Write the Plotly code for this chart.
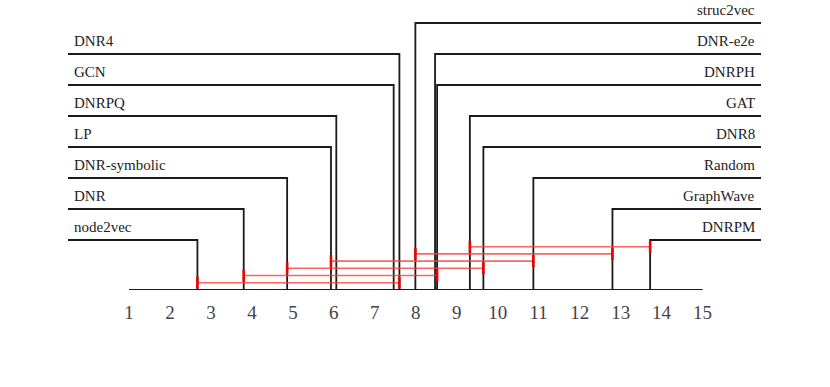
import plotly.graph_objects as go

# average ranks
methods = ["node2vec", "DNR", "DNR-symbolic", "LP", "DNRPQ", "GCN", "DNR4",
           "struc2vec", "DNR-e2e", "DNRPH", "GAT", "DNR8", "Random", "GraphWave", "DNRPM"]
avg_ranks = [2.67, 3.80, 4.86, 5.93, 6.06, 7.46, 7.60,
             7.99, 8.47, 8.52, 9.32, 9.65, 10.87, 12.80, 13.72]

# groups with no significant difference (first, last member)
cliques = [("node2vec", "DNR4"), ("DNR", "DNRPH"), ("DNR-symbolic", "DNR8"),
           ("LP", "Random"), ("struc2vec", "GraphWave"), ("GAT", "DNRPM")]

tick_vals = list(range(1, 16))

W, H = 830, 387
# x axis in rank units: rank 1 at px 129, 40.97 px per rank
PX_PER = 40.97
XMIN = 1 - 129 / PX_PER
XMAX = XMIN + W / PX_PER


def px(p):
    return XMIN + p / PX_PER


AXIS_Y = 290
ROW0 = 240
ROW_STEP = 31
LINE_COL = "#1a1a1a"
FONT = "Liberation Serif"

rank_of = dict(zip(methods, avg_ranks))
order = sorted(methods, key=lambda m: rank_of[m])
n_left = len(order) // 2
left = order[:n_left]
right = order[n_left:][::-1]

fig = go.Figure()
annotations = []

# left side elbows
for k, m in enumerate(left):
    r = rank_of[m]
    y = ROW0 - ROW_STEP * k
    fig.add_trace(go.Scatter(x=[r, r, px(68)], y=[AXIS_Y, y, y], mode="lines",
                             line=dict(color=LINE_COL, width=1.8), hoverinfo="skip"))
    annotations.append(dict(x=px(72), y=y, text=m, xanchor="left", yanchor="bottom",
                            showarrow=False, yshift=3, font=dict(family=FONT, size=15, color="#222")))

# right side elbows
for k, m in enumerate(right):
    r = rank_of[m]
    y = ROW0 - ROW_STEP * k
    fig.add_trace(go.Scatter(x=[r, r, px(761)], y=[AXIS_Y, y, y], mode="lines",
                             line=dict(color=LINE_COL, width=1.8), hoverinfo="skip"))
    annotations.append(dict(x=px(757), y=y, text=m, xanchor="right", yanchor="bottom",
                            showarrow=False, yshift=3, font=dict(family=FONT, size=15, color="#222")))

# axis line
fig.add_trace(go.Scatter(x=[tick_vals[0], tick_vals[-1]], y=[AXIS_Y, AXIS_Y], mode="lines",
                         line=dict(color=LINE_COL, width=1.8), hoverinfo="skip"))

# cliques
for j, (a, b) in enumerate(cliques):
    y = 282.7 - 7.2 * j
    ra, rb = rank_of[a], rank_of[b]
    fig.add_trace(go.Scatter(x=[ra, rb], y=[y, y], mode="lines",
                             line=dict(color="rgba(255,60,60,0.8)", width=1.6), hoverinfo="skip"))
    for r in (ra, rb):
        fig.add_trace(go.Scatter(x=[r, r], y=[y - 6, y + 6], mode="lines",
                                 line=dict(color="#ee0000", width=2.6), hoverinfo="skip"))

fig.update_layout(
    width=W, height=H,
    margin=dict(l=0, r=0, t=0, b=H - AXIS_Y),
    plot_bgcolor="white", paper_bgcolor="white",
    showlegend=False,
    annotations=annotations,
    xaxis=dict(range=[XMIN, XMAX], tickvals=tick_vals, ticktext=[str(v) for v in tick_vals],
               showgrid=False, zeroline=False, showline=False, ticks="",
               ticklabelstandoff=9,
               tickfont=dict(family=FONT, size=19, color="#444")),
    yaxis=dict(range=[AXIS_Y, 0], visible=False, showgrid=False, zeroline=False),
)

fig.write_html("out.html", config={"displayModeBar": False},
               post_script="document.body.style.margin='0';")
